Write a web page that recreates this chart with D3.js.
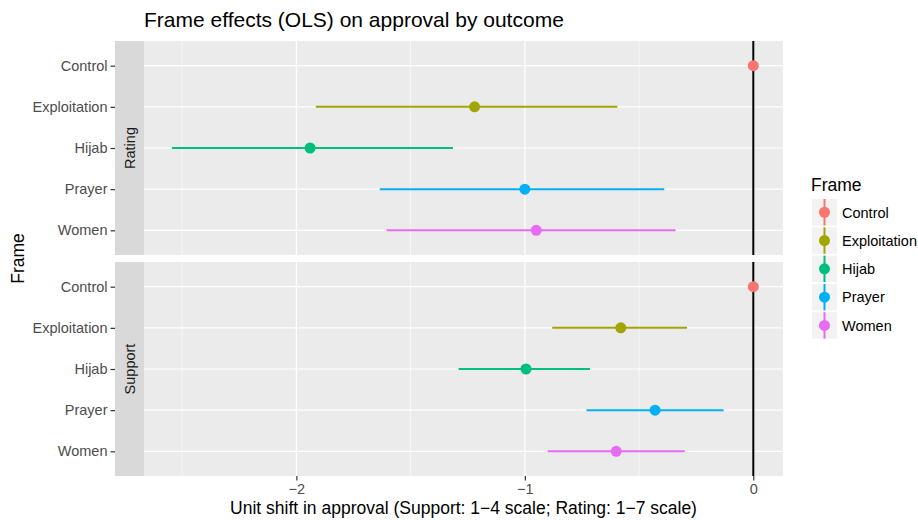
<!DOCTYPE html>
<html>
<head>
<meta charset="utf-8">
<script src="https://cdn.jsdelivr.net/npm/d3@7"></script>
<style>
body { margin: 0; background: #fff; }
text { font-family: "Liberation Sans", Arial, sans-serif; }
</style>
</head>
<body>
<div id="chart"></div>
<script>
// frames and outcomes
var frames = ["Control", "Exploitation", "Hijab", "Prayer", "Women"]
var outcomes = ["Rating", "Support"]
var colors = ["#F8766D", "#A3A500", "#00BF7D", "#00B0F6", "#E76BF3"]

// estimates
var ratingEst = [0, -1.22, -1.94, -1.00, -0.95]
var ratingLo  = [0, -1.915, -2.545, -1.635, -1.605]
var ratingHi  = [0, -0.595, -1.315, -0.39, -0.34]

var supportEst = [0, -0.58, -0.995, -0.43, -0.60]
var supportLo  = [0, -0.88, -1.29, -0.73, -0.90]
var supportHi  = [0, -0.29, -0.715, -0.13, -0.30]

var xTicks = [-2, -1, 0]
var xMinor = [-2.5, -1.5, -0.5]

var W = 918, H = 520
var panelL = 144, panelR = 783
var stripW = 29
var panels = [{top: 41, bottom: 255}, {top: 262, bottom: 476}]

var svg = d3.select("#chart").append("svg")
  .attr("width", W).attr("height", H)

var x = d3.scaleLinear()
  .domain([-2.667, 0.13])
  .range([panelL, panelR])

var tables = [
  {est: ratingEst, lo: ratingLo, hi: ratingHi},
  {est: supportEst, lo: supportLo, hi: supportHi}
]

panels.forEach(function(p, k){
  var y = d3.scalePoint().domain(frames).range([p.top, p.bottom]).padding(0.6)
  var g = svg.append("g")

  g.append("rect")
    .attr("x", panelL).attr("y", p.top)
    .attr("width", panelR - panelL).attr("height", p.bottom - p.top)
    .attr("fill", "#EBEBEB")

  // minor grid
  g.selectAll(".minor").data(xMinor).enter().append("line")
    .attr("x1", d => x(d)).attr("x2", d => x(d))
    .attr("y1", p.top).attr("y2", p.bottom)
    .attr("stroke", "#fff").attr("stroke-width", 0.6)
  // major grid
  g.selectAll(".majx").data(xTicks).enter().append("line")
    .attr("x1", d => x(d)).attr("x2", d => x(d))
    .attr("y1", p.top).attr("y2", p.bottom)
    .attr("stroke", "#fff").attr("stroke-width", 1.2)
  g.selectAll(".majy").data(frames).enter().append("line")
    .attr("x1", panelL).attr("x2", panelR)
    .attr("y1", d => y(d)).attr("y2", d => y(d))
    .attr("stroke", "#fff").attr("stroke-width", 1.2)

  // strip on the left
  g.append("rect")
    .attr("x", panelL - stripW).attr("y", p.top)
    .attr("width", stripW).attr("height", p.bottom - p.top)
    .attr("fill", "#D9D9D9")
  g.append("text")
    .attr("transform", "translate(" + (panelL - stripW / 2 + 5) + "," + ((p.top + p.bottom) / 2) + ") rotate(-90)")
    .attr("text-anchor", "middle")
    .attr("font-size", 14.5)
    .attr("fill", "#1A1A1A")
    .text(outcomes[k])

  // y axis
  var yAxis = g.append("g")
    .attr("transform", "translate(" + (panelL - stripW) + ",0)")
    .call(d3.axisLeft(y).tickSize(4.5).tickPadding(3))
  yAxis.select(".domain").remove()
  yAxis.selectAll("line").attr("stroke", "#333").attr("stroke-width", 1.2)
  yAxis.selectAll("text")
    .attr("font-size", 14.5).attr("fill", "#4D4D4D")
    .style("font-family", "Liberation Sans, Arial, sans-serif")

  // zero line
  g.append("line")
    .attr("x1", x(0)).attr("x2", x(0))
    .attr("y1", p.top).attr("y2", p.bottom)
    .attr("stroke", "#000").attr("stroke-width", 2)

  var t = tables[k]
  var rows = frames.map((f, i) => ({f: f, est: t.est[i], lo: t.lo[i], hi: t.hi[i], c: colors[i]}))

  g.selectAll(".ci").data(rows).enter().append("line")
    .attr("x1", d => x(d.lo)).attr("x2", d => x(d.hi))
    .attr("y1", d => y(d.f)).attr("y2", d => y(d.f))
    .attr("stroke", d => d.c).attr("stroke-width", 2)
  g.selectAll(".pt").data(rows).enter().append("circle")
    .attr("cx", d => x(d.est)).attr("cy", d => y(d.f))
    .attr("r", 5.5)
    .attr("fill", d => d.c)
})

// x axis under the lower panel
var xAxis = svg.append("g")
  .attr("transform", "translate(0," + panels[1].bottom + ")")
  .call(d3.axisBottom(x).tickValues(xTicks).tickSize(4.5).tickPadding(3)
    .tickFormat(d => d === 0 ? "0" : "\u2212" + Math.abs(d)))
xAxis.select(".domain").remove()
xAxis.selectAll("line").attr("stroke", "#333").attr("stroke-width", 1.2)
xAxis.selectAll("text")
  .attr("font-size", 14.5).attr("fill", "#4D4D4D")
  .style("font-family", "Liberation Sans, Arial, sans-serif")

// titles
svg.append("text")
  .attr("x", panelL).attr("y", 27)
  .attr("font-size", 21).attr("fill", "#000")
  .text("Frame effects (OLS) on approval by outcome")

svg.append("text")
  .attr("x", (panelL + panelR) / 2).attr("y", 514)
  .attr("text-anchor", "middle")
  .attr("font-size", 17.5).attr("fill", "#000")
  .text("Unit shift in approval (Support: 1\u22124 scale; Rating: 1\u22127 scale)")

svg.append("text")
  .attr("transform", "translate(24," + ((panels[0].top + panels[1].bottom) / 2) + ") rotate(-90)")
  .attr("text-anchor", "middle")
  .attr("font-size", 17.5).attr("fill", "#000")
  .text("Frame")

// legend
var leg = svg.append("g").attr("transform", "translate(812,199)")
leg.append("text")
  .attr("x", -1).attr("y", -8)
  .attr("font-size", 17.5).attr("fill", "#000")
  .text("Frame")
var key = leg.selectAll(".key").data(frames).enter().append("g")
  .attr("transform", (d, i) => "translate(0," + (i * 28.3) + ")")
key.append("rect")
  .attr("width", 25).attr("height", 26.5)
  .attr("fill", "#F2F2F2")
key.append("line")
  .attr("x1", 12.5).attr("x2", 12.5).attr("y1", 0).attr("y2", 26.5)
  .attr("stroke", (d, i) => colors[i]).attr("stroke-width", 2)
key.append("circle")
  .attr("cx", 12.5).attr("cy", 13.25).attr("r", 5.5)
  .attr("fill", (d, i) => colors[i])
key.append("text")
  .attr("x", 30).attr("y", 18.5)
  .attr("font-size", 14.5).attr("fill", "#000")
  .text(d => d)
</script>
</body>
</html>
